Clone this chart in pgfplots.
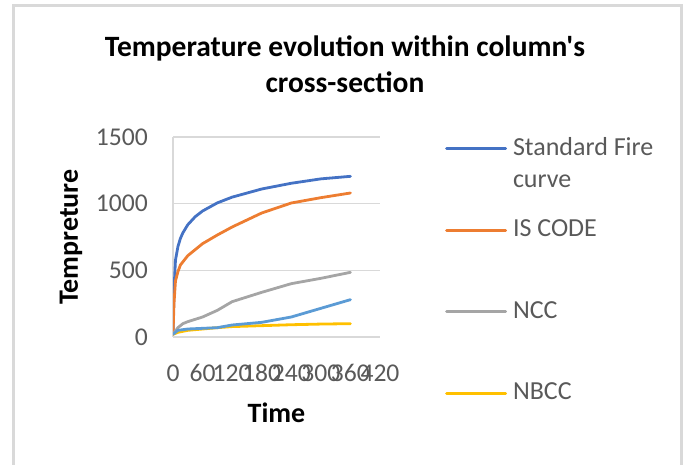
\documentclass[border=0pt]{standalone}
\usepackage{pgfplots}
\pgfplotsset{compat=1.18}
\usepackage{fontspec}
\setmainfont{Carlito}
\newfontfamily\titlefont{Carlito}[Ligatures=TeXOff]
\definecolor{sfc}{HTML}{4472C4}
\definecolor{isc}{HTML}{ED7D31}
\definecolor{ncc}{HTML}{A5A5A5}
\definecolor{nbcc}{HTML}{FFC000}
\definecolor{fifth}{HTML}{5B9BD5}
\definecolor{tickgray}{HTML}{595959}
\definecolor{gridgray}{HTML}{D9D9D9}
\definecolor{framegray}{HTML}{D9D9D9}
\begin{document}
\begin{tikzpicture}
\path[use as bounding box] (0,0) rectangle (686bp,465bp);
\draw[framegray, line width=2.5bp] (13.5bp,-5bp) -- (13.5bp,459.5bp) -- (681.5bp,459.5bp) -- (681.5bp,-5bp);
\node[font=\titlefont\fontsize{29.5bp}{35bp}\selectfont\bfseries, anchor=base] at (345bp,408bp) {Temperature evolution within column's};
\node[font=\titlefont\fontsize{29.5bp}{35bp}\selectfont\bfseries, anchor=base] at (345bp,372bp) {cross-section};
\begin{axis}[
  at={(173bp,128bp)}, anchor=south west,
  scale only axis, width=207bp, height=200bp,
  xmin=0, xmax=420, ymin=0, ymax=1500,
  xtick={0,60,120,180,240,300,360,420},
  ytick={0,500,1000,1500},
  axis x line*=bottom, axis y line*=left,
  axis line style={draw=gridgray, line width=1.3bp, -},
  ymajorgrids, grid style={draw=gridgray, line width=1.3bp},
  major tick length=0pt,
  /pgf/number format/assume math mode=true,
  /pgf/number format/1000 sep={},
  ticklabel style={font=\fontsize{25.6bp}{30bp}\selectfont, text=tickgray, inner sep=0pt},
  yticklabel style={anchor=east, xshift=-25bp},
  xticklabel style={anchor=base, yshift=-44bp},
  xlabel={Time},
  xlabel style={at={(axis description cs:0.5,-0.43)}, anchor=base, font=\fontsize{28bp}{34bp}\selectfont\bfseries},
  ylabel={Tempreture},
  ylabel style={at={(axis description cs:-0.459,0.5)}, anchor=base, font=\fontsize{28bp}{34bp}\selectfont\bfseries},
  legend style={at={(axis description cs:1.314,1.01)}, anchor=north west, draw=none, fill=none,
    inner sep=0pt, row sep=54.5bp, column sep=6bp,
    nodes={inner sep=0pt, text height=20bp, text depth=7bp, font=\fontsize{26bp}{32bp}\selectfont, text=tickgray}},
  legend cell align=left,
  legend image code/.code={\draw[#1] (0bp,0bp) -- (59bp,0bp);},
  every axis plot/.append style={line width=2.8bp, line join=round, line cap=round},
]
\addplot[sfc] coordinates {
(0,20) (2,350) (5,576) (10,678) (15,739) (20,781) (30,842) (45,902) (60,945) (90,1006) (120,1049) (180,1110) (240,1153) (300,1186) (360,1205)
};
\addlegendentry{\smash{\begin{tabular}[t]{@{}l@{}}Standard Fire\\curve\end{tabular}}}
\addplot[isc] coordinates {
(0,20) (2,250) (5,420) (10,490) (15,540) (30,610) (60,700) (90,765) (120,825) (180,930) (240,1005) (300,1045) (360,1080)
};
\addlegendentry{IS CODE}
\addplot[ncc] coordinates {
(0,20) (10,70) (20,100) (30,115) (60,150) (90,200) (120,265) (180,335) (240,400) (300,440) (360,485)
};
\addlegendentry{NCC}
\addplot[nbcc] coordinates {
(0,20) (10,35) (30,50) (60,60) (90,70) (120,78) (180,85) (240,92) (300,97) (360,100)
};
\addlegendentry{NBCC}
\addplot[fifth, forget plot] coordinates {
(0,20) (10,50) (30,60) (60,65) (90,70) (120,90) (180,110) (240,150) (300,215) (360,280)
};
\end{axis}
\end{tikzpicture}
\end{document}
